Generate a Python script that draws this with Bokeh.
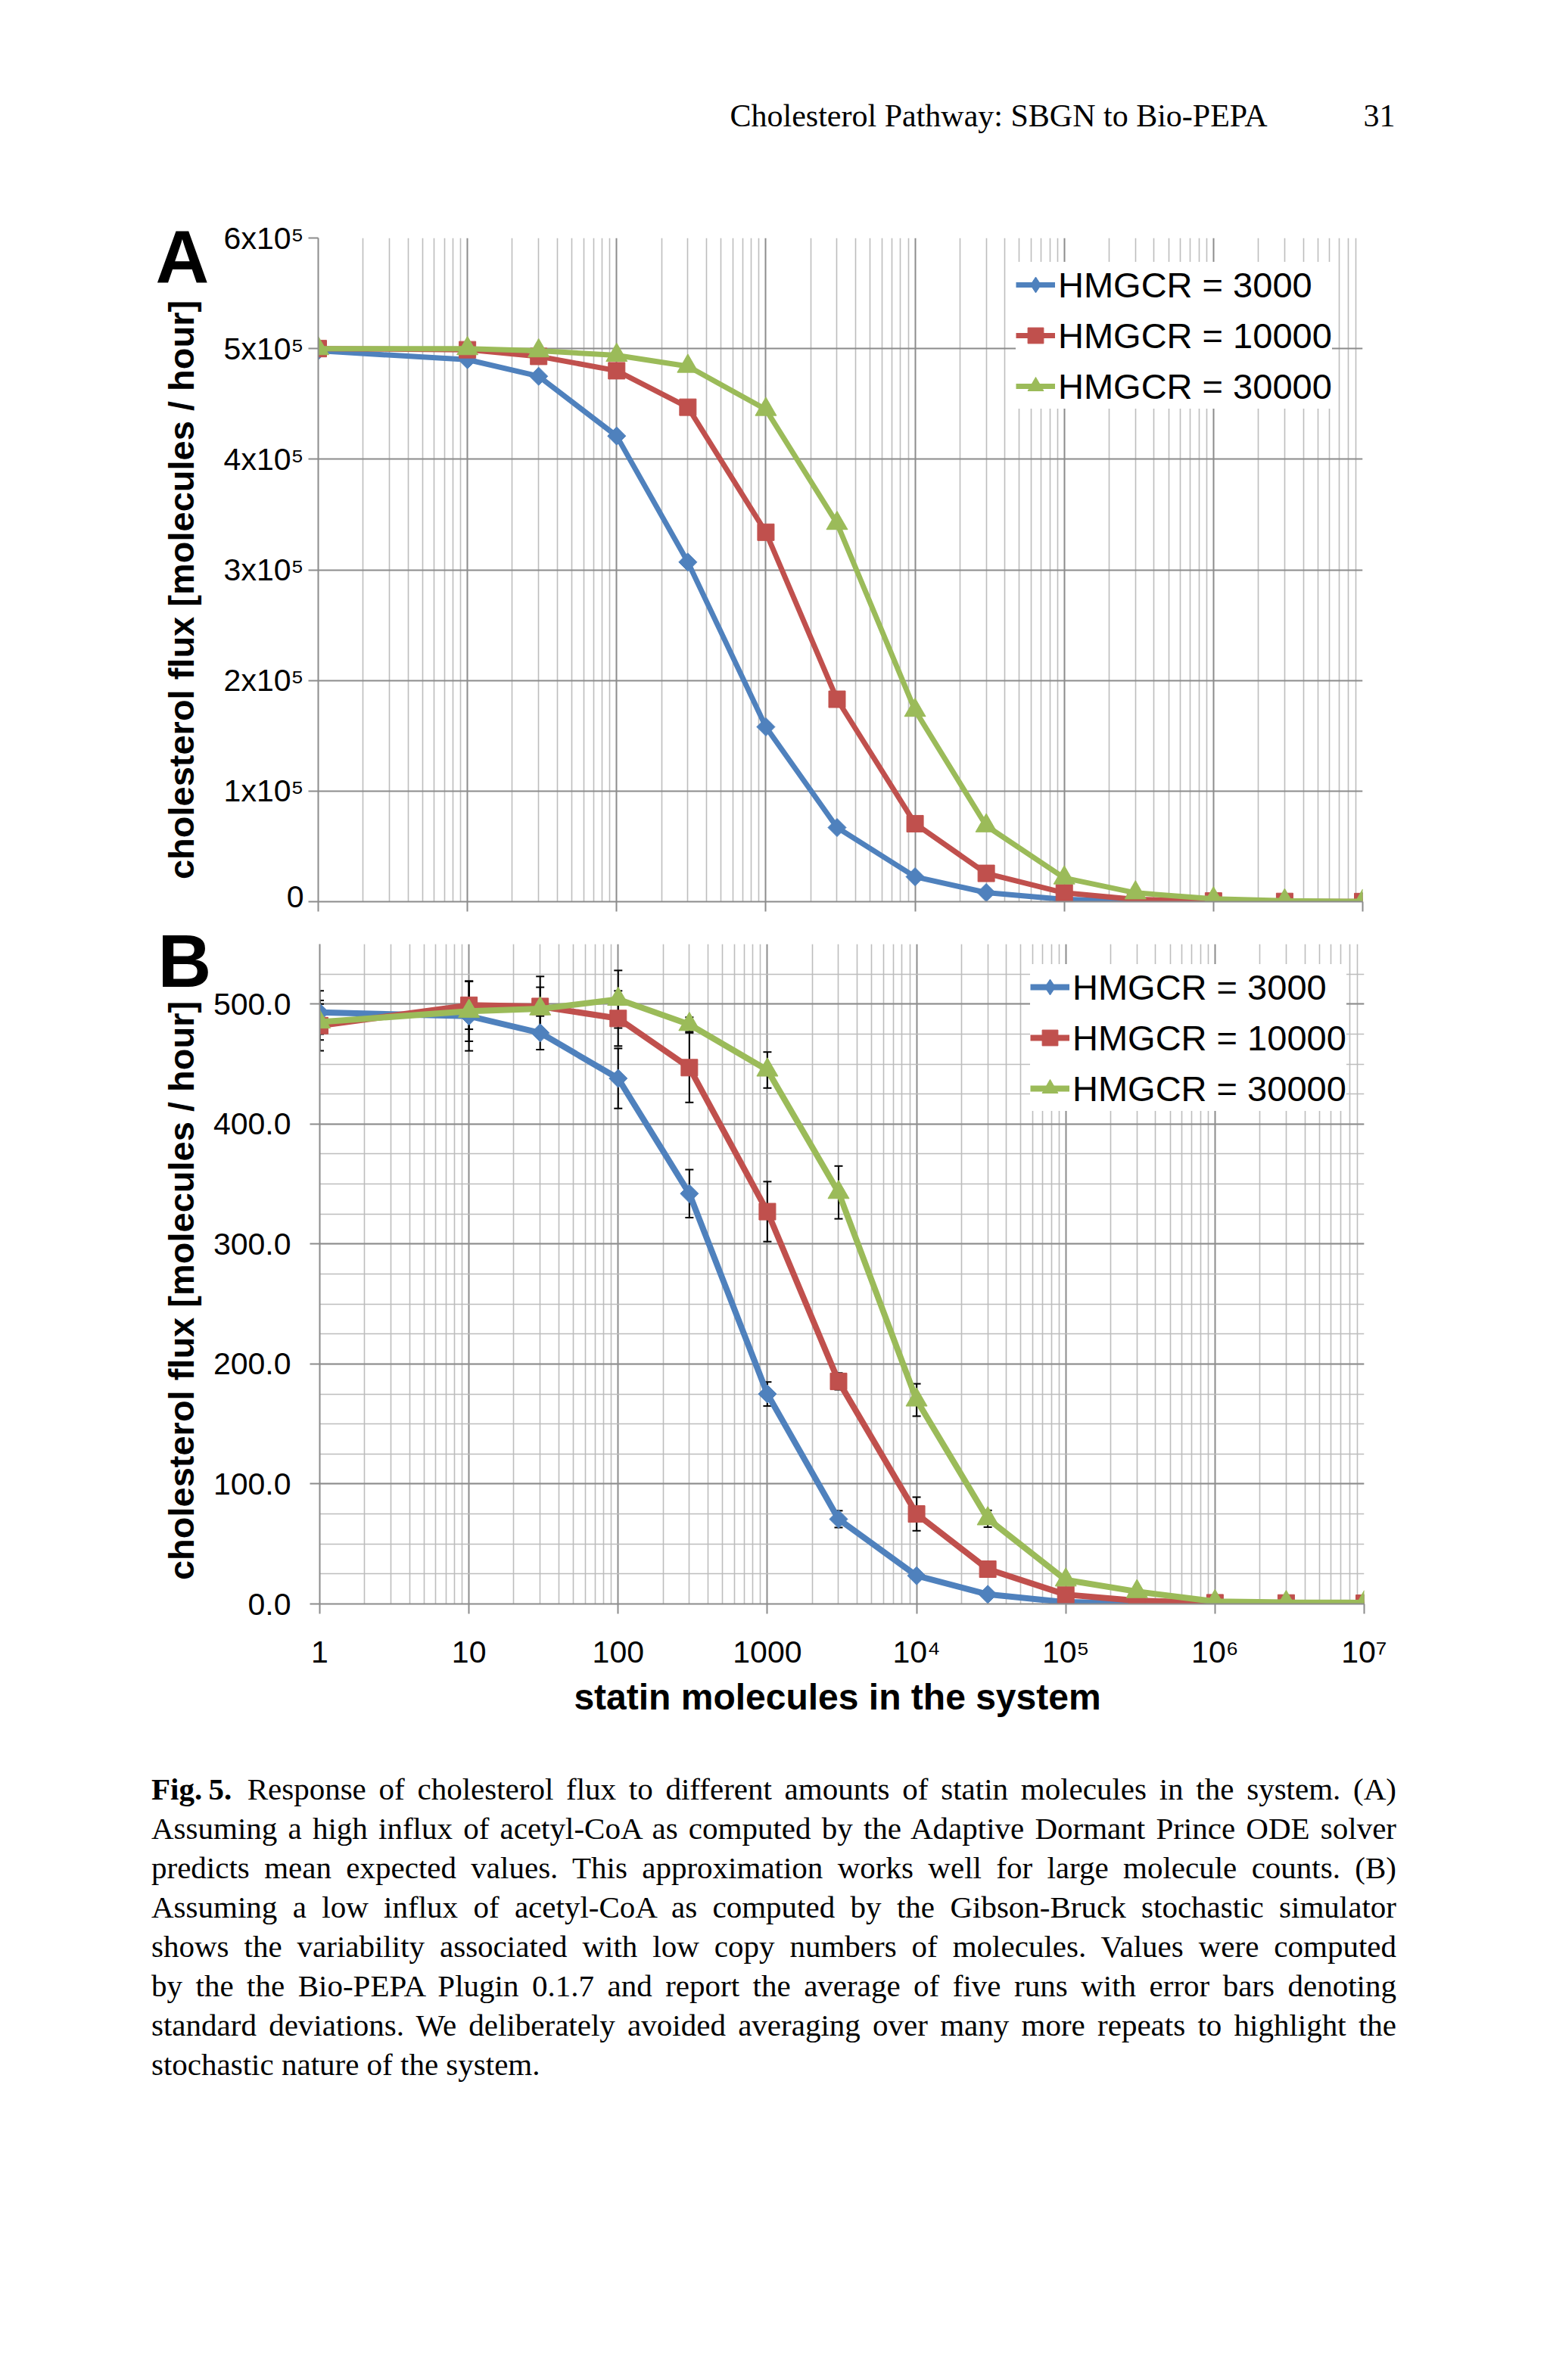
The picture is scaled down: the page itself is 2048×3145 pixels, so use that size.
import math
from bokeh.plotting import figure
from bokeh.models import (Range1d, FixedTicker, CustomJSTickFormatter, Legend, LegendItem,
                          Label, Whisker, TeeHead, ColumnDataSource, Div)
from bokeh.layouts import column, row
from bokeh.embed import file_html
from bokeh.resources import INLINE

# ---------------- data ----------------
statin = [1, 10, 30, 100, 300, 1000, 3000, 1e4, 3e4, 1e5, 3e5, 1e6, 3e6, 1e7]
series_names = ["HMGCR = 3000", "HMGCR = 10000", "HMGCR = 30000"]

# panel A (ODE, high influx)
flux_a_3000 = [4.98e5, 4.90e5, 4.75e5, 4.21e5, 3.07e5, 1.58e5, 0.67e5, 0.225e5, 0.082e5, 0.02e5, 0.007e5, 0.002e5, 0.001e5, 0.0005e5]
flux_a_10000 = [5.0e5, 4.99e5, 4.93e5, 4.80e5, 4.47e5, 3.34e5, 1.83e5, 0.705e5, 0.256e5, 0.08e5, 0.02e5, 0.006e5, 0.002e5, 0.001e5]
flux_a_30000 = [5.0e5, 5.0e5, 4.98e5, 4.94e5, 4.84e5, 4.45e5, 3.42e5, 1.73e5, 0.686e5, 0.215e5, 0.08e5, 0.025e5, 0.008e5, 0.003e5]

# panel B (stochastic, low influx): means and standard deviations
flux_b_3000 = [493, 490, 476, 438, 342, 175, 70.7, 23.5, 8, 1.5, 0.5, 0.3, 0.2, 0.1]
flux_b_10000 = [482, 499, 498, 488, 447, 327, 185.5, 75, 29, 7.8, 2.7, 1.0, 0.8, 0.6]
flux_b_30000 = [485, 494, 496, 504, 483, 445, 343, 170, 71, 20, 10.3, 2.0, 1.2, 1.0]
sd_b_3000 = [18, 29, 14, 25, 20, 10, 7, 2, 1, 0.5, 0.3, 0.2, 0.1, 0.1]
sd_b_10000 = [21, 20, 25, 23, 29, 25, 7, 14, 3, 1.5, 1, 0.5, 0.3, 0.3]
sd_b_30000 = [15, 25, 18, 24, 6, 15, 22, 13.5, 7, 2, 1.5, 0.5, 0.3, 0.3]

x_tick_values = [1, 10, 100, 1000, 1e4, 1e5, 1e6, 1e7]
x_tick_labels = ["1", "10", "100", "1000", "10\u2074", "10\u2075", "10\u2076", "10\u2077"]
ya_tick_values = [0, 1e5, 2e5, 3e5, 4e5, 5e5, 6e5]
ya_tick_labels = ["0", "1x10\u2075", "2x10\u2075", "3x10\u2075", "4x10\u2075", "5x10\u2075", "6x10\u2075"]
yb_tick_values = [0, 100, 200, 300, 400, 500]
yb_tick_labels = ["0.0", "100.0", "200.0", "300.0", "400.0", "500.0"]
yb_minor_values = [25 * k for k in range(0, 23)]

header_title = "Cholesterol Pathway: SBGN to Bio-PEPA"
page_number = "31"
x_title = "statin molecules in the system"
y_title = "cholesterol flux [molecules / hour]"
panel_letters = ["A", "B"]
caption_label = "Fig.\u20095."
caption_lines = [
    "Response of cholesterol flux to different amounts of statin molecules in the system. (A)",
    "Assuming a high influx of acetyl-CoA as computed by the Adaptive Dormant Prince ODE solver",
    "predicts mean expected values. This approximation works well for large molecule counts. (B)",
    "Assuming a low influx of acetyl-CoA as computed by the Gibson-Bruck stochastic simulator",
    "shows the variability associated with low copy numbers of molecules. Values were computed",
    "by the the Bio-PEPA Plugin 0.1.7 and report the average of five runs with error bars denoting",
    "standard deviations. We deliberately avoided averaging over many more repeats to highlight the",
    "stochastic nature of the system.",
]

# ---------------- layout (page pixels) ----------------
PAGE_W = 2032
STRIP_W = 278
FRAME_L, FRAME_R = 420, 1800
HEAD_BOT = 260
A_TOP, A_BOT = 314, 1191
SPLIT = 1207
B_TOP, B_BOT = 1247, 2119
B_FIG_BOT = 2209
CAP_TOP = 2338

COLORS = ["#4F81BD", "#C0504D", "#9BBB59"]
MAJOR_GRID = "#8c8c8c"
MINOR_GRID = "#bdbdbd"
SANS = "Liberation Sans"
SERIF = "Liberation Serif"

x_minor = [k * 10 ** d for d in range(0, 7) for k in range(2, 10)]


def no_align(p):
    try:
        p.frame_align = False
    except Exception:
        pass
    return p


def strip(x0, x1, y0, y1):
    """A blank figure whose frame fills the canvas; coordinates are page pixels."""
    p = figure(width=x1 - x0, height=y1 - y0, x_range=Range1d(x0, x1), y_range=Range1d(y1, y0),
               x_axis_type=None, y_axis_type=None, min_border_left=0, min_border_right=0,
               min_border_top=0, min_border_bottom=0, output_backend="svg",
               toolbar_location=None, outline_line_color=None,
               background_fill_color="white", border_fill_color="white")
    return no_align(p)


def make_fig(top_page, frame_top, frame_bot, bottom_page, y_end):
    p = figure(x_axis_type="log", x_range=Range1d(1, 1e7), y_range=Range1d(0, y_end),
               frame_width=FRAME_R - FRAME_L, frame_height=frame_bot - frame_top,
               min_border_left=FRAME_L - STRIP_W, min_border_right=PAGE_W - FRAME_R,
               min_border_top=frame_top - top_page, min_border_bottom=bottom_page - frame_bot,
               output_backend="svg", toolbar_location=None, outline_line_color=None,
               background_fill_color="white", border_fill_color="white")
    p.xaxis.ticker = FixedTicker(ticks=x_tick_values, minor_ticks=x_minor)
    p.xgrid.grid_line_color = MAJOR_GRID
    p.xgrid.grid_line_width = 2
    p.xgrid.minor_grid_line_color = MINOR_GRID
    p.xgrid.minor_grid_line_width = 1.6
    p.ygrid.grid_line_color = MAJOR_GRID
    p.ygrid.grid_line_width = 2.2
    for ax in p.axis:
        ax.axis_line_color = MAJOR_GRID
        ax.axis_line_width = 2
        ax.major_tick_line_color = MAJOR_GRID
        ax.major_tick_line_width = 2
        ax.major_tick_out = 13
        ax.major_tick_in = 0
        ax.minor_tick_line_color = None
        ax.major_label_text_font = SANS
        ax.major_label_text_font_size = "41px"
        ax.major_label_text_color = "black"
    return no_align(p)


def add_series(p, ys, lw):
    items = []
    specs = [dict(marker="square", size=17, angle=math.pi / 4, legend="diamond"),
             dict(marker="square", size=22, angle=0, legend=None),
             dict(marker="triangle", size=28, angle=0, legend=None)]
    for name, vals, c, s in zip(series_names, ys, COLORS, specs):
        ln = p.line(statin, vals, line_color=c, line_width=lw)
        sc = p.scatter(statin, vals, marker=s["marker"], size=s["size"], angle=s["angle"],
                       fill_color=c, line_color=c)
        rend = [ln, sc]
        if s["legend"]:
            # legend swatch keeps an upright diamond (legend markers ignore the angle)
            lgm = p.scatter(statin, vals, marker=s["legend"], size=0, fill_color=c, line_color=c)
            rend = [ln, lgm]
        items.append(LegendItem(label=name, renderers=rend))
    return items


def add_legend(p, items, left_page, bottom_page, frame_bot):
    lg = Legend(items=items, location=(left_page - FRAME_L, frame_bot - bottom_page),
                label_text_font=SANS, label_text_font_size="47px", label_text_color="black",
                glyph_width=52, glyph_height=60, label_height=60, label_standoff=4,
                spacing=7, padding=4, margin=0, border_line_color=None,
                background_fill_color="white", background_fill_alpha=1.0)
    p.add_layout(lg)


def text_label(x, y, text, font, size, bold=False, align="left", angle=0.0):
    return Label(x=x, y=y, text=text, text_font=font, text_font_size=size,
                 text_font_style="bold" if bold else "normal", text_align=align,
                 text_baseline="middle", angle=angle, text_color="black")


# ---------------- header ----------------
head = strip(0, PAGE_W, 0, HEAD_BOT)
head.add_layout(text_label(964, 152, header_title, SERIF, "42px"))
head.add_layout(text_label(1843, 152, page_number, SERIF, "42px", align="right"))

# ---------------- panel A ----------------
pa = make_fig(HEAD_BOT, A_TOP, A_BOT, SPLIT, 6e5)
pa.yaxis.ticker = FixedTicker(ticks=ya_tick_values)
pa.yaxis.formatter = CustomJSTickFormatter(args=dict(labels=ya_tick_labels),
                                           code="return labels[Math.round(tick/100000)];")
pa.yaxis.major_label_standoff = 6
pa.xaxis.formatter = CustomJSTickFormatter(code="return '';")
pa.xaxis.major_label_text_font_size = "0px"
pa.xaxis.major_label_standoff = 0
add_legend(pa, add_series(pa, [flux_a_3000, flux_a_10000, flux_a_30000], 7), 1342, 540, A_BOT)

left_a = strip(0, STRIP_W, HEAD_BOT, SPLIT)
left_a.add_layout(text_label(205, 338, panel_letters[0], SANS, "98px", bold=True))
left_a.add_layout(text_label(239, 779, y_title, SANS, "47px", bold=True, align="center",
                             angle=math.pi / 2))

# ---------------- panel B ----------------
pb = make_fig(SPLIT, B_TOP, B_BOT, B_FIG_BOT, 550)
pb.yaxis.ticker = FixedTicker(ticks=yb_tick_values, minor_ticks=yb_minor_values)
pb.yaxis.formatter = CustomJSTickFormatter(args=dict(labels=yb_tick_labels),
                                           code="return labels[Math.round(tick/100)];")
pb.yaxis.major_label_standoff = 25
pb.ygrid.minor_grid_line_color = MINOR_GRID
pb.ygrid.minor_grid_line_width = 1.6
pb.xaxis.formatter = CustomJSTickFormatter(args=dict(labels=x_tick_labels),
                                           code="return labels[Math.round(Math.log10(tick))];")
pb.xaxis.major_label_standoff = 27
items_b = add_series(pb, [flux_b_3000, flux_b_10000, flux_b_30000], 8)
for vals, sds in zip([flux_b_3000, flux_b_10000, flux_b_30000], [sd_b_3000, sd_b_10000, sd_b_30000]):
    src = ColumnDataSource(dict(x=statin, upper=[v + s for v, s in zip(vals, sds)],
                                lower=[v - s for v, s in zip(vals, sds)]))
    pb.add_layout(Whisker(source=src, base="x", upper="upper", lower="lower", dimension="height",
                          line_color="black", line_width=2,
                          upper_head=TeeHead(size=11, line_color="black", line_width=2),
                          lower_head=TeeHead(size=11, line_color="black", line_width=2)))
add_legend(pb, items_b, 1359, 1468, B_BOT)

left_b = strip(0, STRIP_W, SPLIT, B_FIG_BOT)
left_b.add_layout(text_label(208, 1269, panel_letters[1], SANS, "98px", bold=True))
left_b.add_layout(text_label(239, 1705, y_title, SANS, "47px", bold=True, align="center",
                             angle=math.pi / 2))

# x-axis title strip
xt = strip(0, PAGE_W, B_FIG_BOT, CAP_TOP)
xt.add_layout(text_label(1106, 2242, x_title, SANS, "48px", bold=True, align="center"))

# ---------------- caption ----------------
line_style = ("text-align:justify;text-align-last:justify;height:52px;line-height:52px;"
              "margin:0;padding:0;")
rows = []
for i, ln in enumerate(caption_lines):
    content = ("<b>%s</b>&ensp;%s" % (caption_label, ln)) if i == 0 else ln
    st = line_style if i < len(caption_lines) - 1 else line_style.replace(
        "text-align:justify;text-align-last:justify;", "text-align:left;")
    rows.append('<div style="%s">%s</div>' % (st, content))
cap_html = ('<div style="margin:0 0 0 200px;width:1645px;font-family:\'%s\';font-size:41px;'
            'color:black;">%s</div>' % (SERIF, "".join(rows)))
cap = Div(text=cap_html, width=PAGE_W, height=440, margin=(0, 0, 0, 0))

layout = column(head, row(left_a, pa, spacing=0), row(left_b, pb, spacing=0), xt, cap, spacing=0)
open("out.html", "w").write(file_html(layout, INLINE))
